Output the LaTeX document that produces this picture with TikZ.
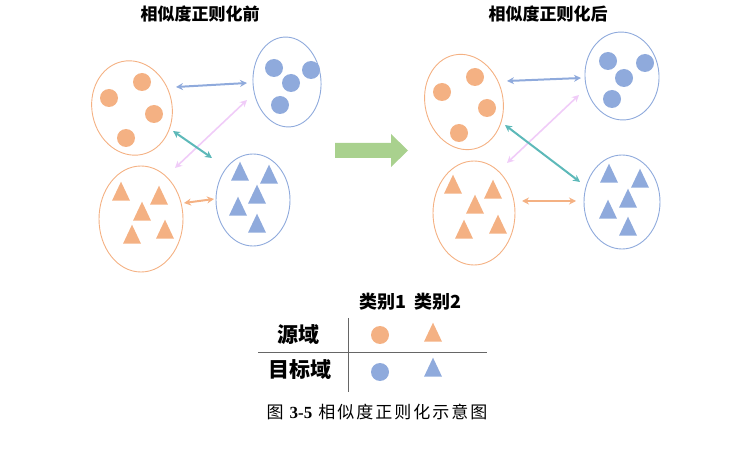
\documentclass[tikz,border=0pt]{standalone}
\usepackage{fontspec}
\newfontfamily\cjk{Noto Sans CJK SC}
\newfontfamily\numf{Liberation Serif}
\usetikzlibrary{arrows.meta,shapes.geometric}
\definecolor{Peach}{HTML}{F4B183}
\definecolor{Sky}{HTML}{8FAADC}
\definecolor{Teal}{HTML}{5DB9B9}
\definecolor{Lilac}{HTML}{F0CCF8}
\definecolor{Leaf}{HTML}{A9D18E}

\begin{document}
\begin{tikzpicture}[x=1pt,y=-1pt,>=Stealth,font=\cjk,
 set/.style={ellipse,draw,line width=0.9pt,inner sep=0pt},
 dot/.style={circle,fill,inner sep=0pt,minimum size=18pt},
 tri/.style={isosceles triangle,isosceles triangle stretches,shape border rotate=90,
  fill,inner sep=0pt,minimum width=18pt,minimum height=19pt},
 link/.style={{Stealth[length=7pt,width=7pt]}-{Stealth[length=7pt,width=7pt]},line width=2pt},
 title/.style={font=\cjk\bfseries\fontsize{17}{17}\selectfont}]
\useasboundingbox (0,0) rectangle (753,449);

% before
\node[title] (t1) at (200,14) {相似度正则化前};
\node[set,Peach,minimum width=80pt,minimum height=95pt,rotate=12] (sa) at (132,108) {};
\node[set,Sky,minimum width=68pt,minimum height=90pt,rotate=4] (ta) at (287,82) {};
\node[set,Peach,minimum width=84pt,minimum height=106pt] (sb) at (141,219) {};
\node[set,Sky,minimum width=74pt,minimum height=92pt] (tb) at (253,200) {};
\foreach \p [count=\i] in {(109,98),(142,82),(154,114),(126,138)}
 \node[dot,Peach] (sa\i) at \p {};
\foreach \p [count=\i] in {(274,68),(311,70),(291,83),(280,105)}
 \node[dot,Sky] (ta\i) at \p {};
\foreach \p [count=\i] in {(121,195),(159,199),(142,215),(132,238),(165,233)}
 \node[tri,Peach] (sb\i) at \p {};
\foreach \p [count=\i] in {(240,175),(269,178),(257,198),(238,210),(257,227)}
 \node[tri,Sky] (tb\i) at \p {};
\coordinate (a1) at (176,87);  \coordinate (a2) at (247,83);
\coordinate (b1) at (175,168); \coordinate (b2) at (247,100);
\coordinate (c1) at (173,131); \coordinate (c2) at (212,158);
\coordinate (d1) at (184,203); \coordinate (d2) at (214,199);
\draw[link,Sky] (a1) -- (a2);
\draw[link,Lilac,line width=1.6pt] (b1) -- (b2);
\draw[link,Teal] (c1) -- (c2);
\draw[link,Peach] (d1) -- (d2);

% arrow
\fill[Leaf] (335,143) -- (391,143) -- (391,134) -- (408,150.5) -- (391,167)
 -- (391,158) -- (335,158) -- cycle;

% after
\node[title] (t2) at (548,14) {相似度正则化后};
\node[set,Peach,minimum width=78pt,minimum height=96pt,rotate=12] (sc) at (464,102) {};
\node[set,Sky,minimum width=74pt,minimum height=88pt,rotate=4] (tc) at (622,76) {};
\node[set,Peach,minimum width=82pt,minimum height=104pt] (sd) at (474,213) {};
\node[set,Sky,minimum width=76pt,minimum height=94pt] (td) at (622,202) {};
\foreach \p [count=\i] in {(442,92),(475,77),(487,108),(459,133)}
 \node[dot,Peach] (sc\i) at \p {};
\foreach \p [count=\i] in {(608,61),(645,63),(624,78),(612,99)}
 \node[dot,Sky] (tc\i) at \p {};
\foreach \p [count=\i] in {(453,188),(493,193),(475,208),(464,233),(498,228)}
 \node[tri,Peach] (sd\i) at \p {};
\foreach \p [count=\i] in {(609,177),(640,182),(628,202),(608,213),(628,230)}
 \node[tri,Sky] (td\i) at \p {};
\coordinate (e1) at (507,81);  \coordinate (e2) at (581,78);
\coordinate (f1) at (507,163); \coordinate (f2) at (579,95);
\coordinate (g1) at (505,125); \coordinate (g2) at (580,182);
\coordinate (h1) at (522,201); \coordinate (h2) at (576,201);
\draw[link,Sky] (e1) -- (e2);
\draw[link,Lilac,line width=1.6pt] (f1) -- (f2);
\draw[link,Teal] (g1) -- (g2);
\draw[link,Peach] (h1) -- (h2);

% legend
\begin{scope}[font=\cjk\bfseries\fontsize{18}{18}\selectfont]
\node (k1) at (383,302) {类别1};
\node (k2) at (438,302) {类别2};
\node[font=\cjk\bfseries\fontsize{21}{21}\selectfont] (src) at (298,335) {源域};
\node[font=\cjk\bfseries\fontsize{21}{21}\selectfont] (tgt) at (300,370) {目标域};
\end{scope}
\coordinate (v1) at (348,318); \coordinate (v2) at (348,392);
\coordinate (w1) at (258,352); \coordinate (w2) at (487,352);
\draw[gray!80!black,line width=0.8pt] (v1) -- (v2);
\draw[gray!80!black,line width=0.8pt] (w1) -- (w2);
\node[dot,Peach] (ls1) at (380,335) {};
\node[tri,Peach] (ls2) at (433,336) {};
\node[dot,Sky] (lt1) at (380,372) {};
\node[tri,Sky] (lt2) at (433,371) {};
\node[font=\cjk\fontsize{17}{17}\selectfont] (cap) at (377,412)
 {图\hspace{6pt}{\numf\bfseries 3-5}\hspace{6pt}相\hspace{2pt}似\hspace{2pt}度\hspace{2pt}正\hspace{2pt}则\hspace{2pt}化\hspace{2pt}示\hspace{2pt}意\hspace{2pt}图};
\end{tikzpicture}
\end{document}
